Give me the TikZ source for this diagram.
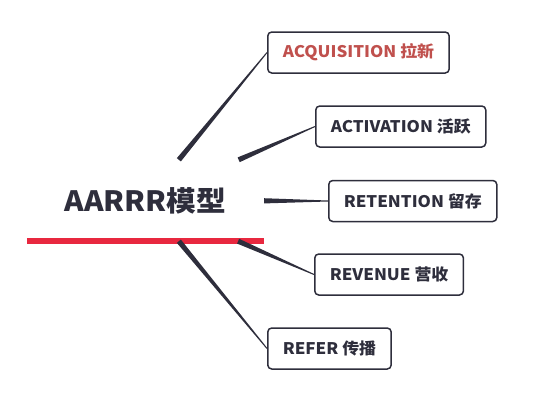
\documentclass[tikz,border=0pt]{standalone}
\usepackage{fontspec}
\setmainfont{Noto Sans CJK SC}[FakeStretch=1.06]
\usetikzlibrary{calc}

\definecolor{inkdark}{HTML}{2E2E3C}
\definecolor{accred}{HTML}{C0504D}
\definecolor{barred}{HTML}{E8283F}

%% tapered branch: thick at the root, thin at the box
\newcommand{\branch}[2]{%
  \path (#1) -- (#2.west) coordinate[pos=0] (#2-s) coordinate[pos=1] (#2-e);
  \fill[inkdark]
    ($(#2-s)!2.6pt!90:(#2-e)$) -- ($(#2-e)!0.5pt!-90:(#2-s)$) --
    ($(#2-e)!0.5pt!90:(#2-s)$) -- ($(#2-s)!2.6pt!-90:(#2-e)$) -- cycle;
}

\begin{document}
\begin{tikzpicture}[x=1pt, y=-1pt,
    leaf/.style={draw=inkdark, line width=1.5pt, rounded corners=4pt, fill=white,
      anchor=west, minimum height=41pt, inner xsep=15pt,
      font=\fontsize{16}{16}\selectfont\bfseries, text=inkdark},
    rootbox/.style={minimum width=237pt, minimum height=81pt, inner sep=0pt,
      font=\fontsize{28}{28}\selectfont\bfseries, text=inkdark}]
  \useasboundingbox (0,0) rectangle (552,407);

  %% --- root ---
  \node[rootbox] (root) at (145.5,200.5) {AARRR模型};
  \draw[barred, line width=6pt] (root.south west) -- (root.south east);

  %% --- the five stages ---
  \node[leaf, text=accred] (acq) at (267,52.5) {ACQUISITION 拉新};
  \node[leaf] (act) at (315,126.5) {ACTIVATION 活跃};
  \node[leaf] (ret) at (328,201) {RETENTION 留存};
  \node[leaf] (rev) at (314,274.5) {REVENUE 营收};
  \node[leaf] (ref) at (267,348.5) {REFER 传播};

  %% branches
  \foreach \leafname in {acq, act, ret, rev, ref} {
    \branch{root}{\leafname}
  }
\end{tikzpicture}
\end{document}
